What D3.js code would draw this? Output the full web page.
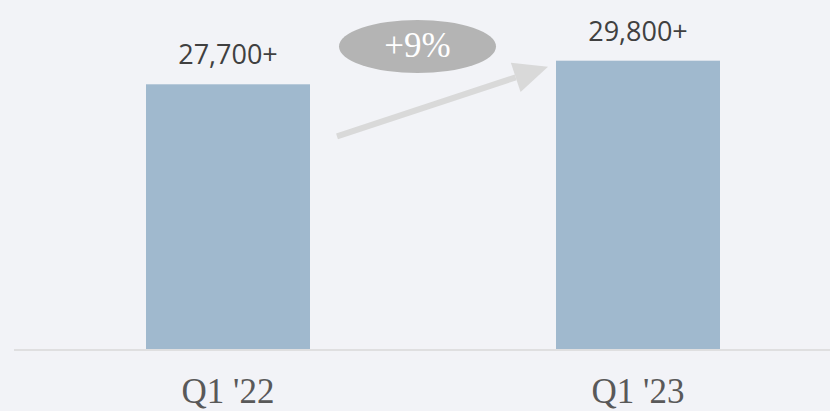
<!DOCTYPE html>
<html>
<head>
<meta charset="utf-8">
<script src="https://cdn.jsdelivr.net/npm/d3@7"></script>
<style>
  html, body { margin: 0; padding: 0; background: #f2f3f7; }
  svg { display: block; }
</style>
</head>
<body>
<svg></svg>
<script>
// Data
const categories = ["Q1 '22", "Q1 '23"]
const values = [27700, 29800]
const valueLabels = ["27,700+", "29,800+"]
const changeLabel = "+9%"

// Size
var svgWidth = 830, svgHeight = 411
var baseY = 349

var svg = d3.select('svg')
    .attr("width", svgWidth)
    .attr("height", svgHeight)

var x = d3.scaleBand()
    .domain(categories)
    .range([146, 720])
    .paddingInner(0.6)
    .paddingOuter(0)

var y = d3.scaleLinear()
    .domain([4150, 34000])
    .range([baseY, baseY - (34000 - 4150) * 0.01124])

// Bars
svg.selectAll("rect.bar")
    .data(values)
    .enter()
    .append("rect")
    .attr("class", "bar")
    .attr("x", (d, i) => x(categories[i]))
    .attr("y", (d) => y(d))
    .attr("width", x.bandwidth())
    .attr("height", (d) => baseY - y(d))
    .attr("fill", "#a0b9ce")

// Axis line
svg.append("line")
    .attr("x1", 14).attr("x2", svgWidth)
    .attr("y1", baseY + 1).attr("y2", baseY + 1)
    .attr("stroke", "#d9d9d9")
    .attr("stroke-width", 1.5)

// Value labels
svg.selectAll("text.val")
    .data(valueLabels)
    .enter()
    .append("text")
    .attr("class", "val")
    .attr("x", (d, i) => x(categories[i]) + x.bandwidth() / 2)
    .attr("y", (d, i) => y(values[i]) - 20)
    .attr("text-anchor", "middle")
    .attr("font-family", "'Open Sans', sans-serif")
    .attr("font-size", 27)
    .attr("fill", "#404040")
    .text((d) => d)

// Category labels
svg.selectAll("text.cat")
    .data(categories)
    .enter()
    .append("text")
    .attr("class", "cat")
    .attr("x", (d) => x(d) + x.bandwidth() / 2)
    .attr("y", 403)
    .attr("text-anchor", "middle")
    .attr("font-family", "'Liberation Serif', serif")
    .attr("font-size", 35)
    .attr("fill", "#595959")
    .text((d) => d)

// Growth arrow
var x0 = x(categories[0]) + x.bandwidth() + 27
var y0 = y(values[0]) + 52
var x1 = x(categories[1]) - 8
var y1 = y(values[1]) + 6
var ang = Math.atan2(y1 - y0, x1 - x0)
var headLen = 34, headHalf = 15.5
var bx = x1 - headLen * Math.cos(ang), by = y1 - headLen * Math.sin(ang)

svg.append("line")
    .attr("x1", x0).attr("y1", y0)
    .attr("x2", bx).attr("y2", by)
    .attr("stroke", "#d9d9d9")
    .attr("stroke-width", 6)

svg.append("polygon")
    .attr("points", [
        [x1, y1],
        [bx - headHalf * Math.sin(ang), by + headHalf * Math.cos(ang)],
        [bx + headHalf * Math.sin(ang), by - headHalf * Math.cos(ang)]
    ].map(p => p.join(",")).join(" "))
    .attr("fill", "#d9d9d9")

// Change bubble
var cx = (x0 + x1) / 2 - 25
svg.append("ellipse")
    .attr("cx", cx).attr("cy", 46.5)
    .attr("rx", 78.5).attr("ry", 26.5)
    .attr("fill", "#b4b4b4")

svg.append("text")
    .attr("x", cx).attr("y", 57)
    .attr("text-anchor", "middle")
    .attr("font-family", "'Liberation Serif', serif")
    .attr("font-size", 35)
    .attr("fill", "#ffffff")
    .text(changeLabel)
</script>
</body>
</html>
